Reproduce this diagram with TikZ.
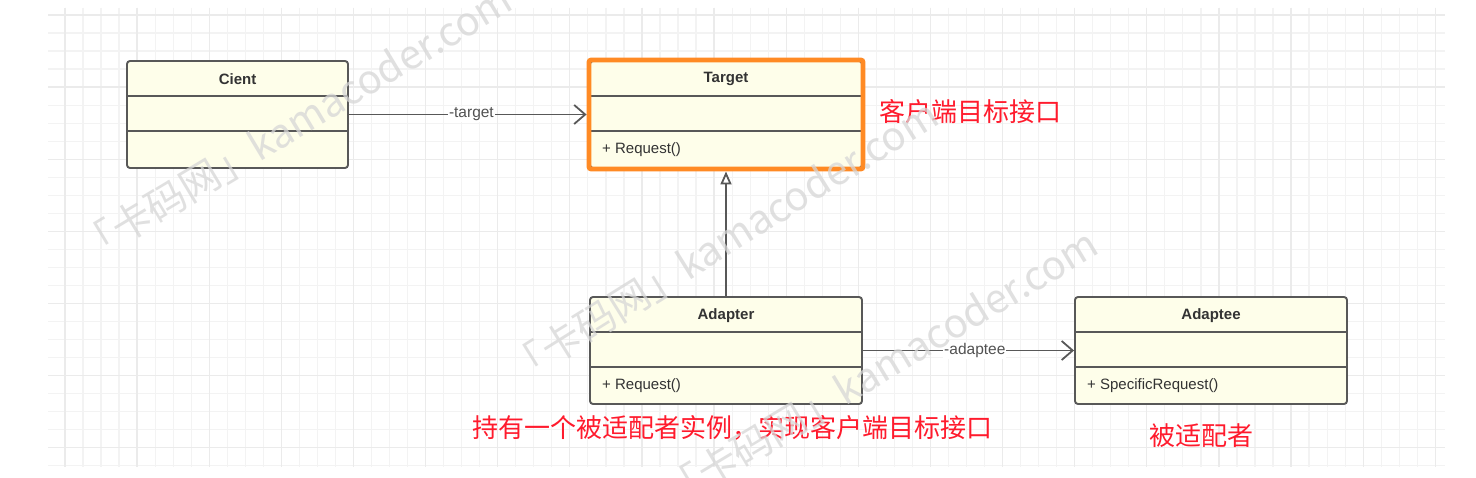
\documentclass[tikz,border=0pt]{standalone}
\usepackage{fontspec}
\setmainfont{Liberation Sans}
\newfontfamily\cjkfont{Noto Sans CJK SC}
\usetikzlibrary{arrows.meta,calc}
\definecolor{boxfill}{HTML}{FEFEEA}
\definecolor{boxline}{HTML}{585858}
\definecolor{txt}{HTML}{333333}
\definecolor{gridminor}{HTML}{F3F3F3}
\definecolor{gridmajor}{HTML}{EBEBEB}
\definecolor{orangec}{HTML}{FF8A24}
\definecolor{redc}{HTML}{FF1B2D}
\definecolor{wmc}{HTML}{D6D6D6}
\begin{document}
\begin{tikzpicture}[x=1pt,y=-1pt,
  gridl/.style={draw=gridminor, line width=1.2pt},
  gridm/.style={draw=gridmajor, line width=1.3pt},
  umlbox/.style={draw=boxline, fill=boxfill, line width=1.9pt, rounded corners=3pt, inner sep=0pt},
  sepline/.style={draw=boxline, line width=1.9pt},
  orangeframe/.style={draw=orangec, line width=4.8pt, rounded corners=2pt},
  titletext/.style={font=\fontsize{15}{18}\selectfont\bfseries, text=txt, inner sep=0pt},
  membertext/.style={font=\fontsize{15}{18}\selectfont, text=txt, anchor=west, inner sep=0pt},
  assoc/.style={draw=boxline, line width=1.8pt, -{Straight Barb[length=11pt,width=19pt]}},
  inherit/.style={draw=boxline, line width=1.8pt, -{Triangle[open,length=13pt,width=11pt,fill=white]}},
  lbl/.style={fill=white, inner sep=1pt, font=\fontsize{15.5}{18}\selectfont, text=txt!85},
  redtext/.style={font=\cjkfont\fontsize{26}{29}\selectfont, text=redc, inner sep=0pt},
  wm/.style={font=\cjkfont\fontsize{40}{44}\selectfont, text=wmc, text opacity=0.75, inner sep=0pt}
]
\fill[white] (0,0) rectangle (1476,478);
\path[use as bounding box] (0,0) rectangle (1476,478);
% grid
\foreach \i in {0,...,76} \draw[gridl] ({65+18.03*\i},8) -- ({65+18.03*\i},467);
\foreach \j in {0,...,25} \draw[gridl] (48,{15+18.03*\j}) -- (1445,{15+18.03*\j});
\foreach \i in {0,...,19} \draw[gridm] ({65+72.12*\i},8) -- ({65+72.12*\i},467);
\foreach \j in {0,...,6} \draw[gridm] (48,{15+72.12*\j}) -- (1445,{15+72.12*\j});

% Client
\node[umlbox, minimum width=221pt, minimum height=107pt] (client) at (237.5,114.5) {};
\draw[sepline] ([yshift=-36pt]client.north west) -- ([yshift=-36pt]client.north east);
\draw[sepline] ([yshift=-71pt]client.north west) -- ([yshift=-71pt]client.north east);
\node[titletext] (clientname) at (237.5,79) {Cient};

% Target
\node[umlbox, minimum width=272pt, minimum height=107pt] (target) at (726,114.5) {};
\draw[sepline] ([yshift=-36pt]target.north west) -- ([yshift=-36pt]target.north east);
\draw[sepline] ([yshift=-71pt]target.north west) -- ([yshift=-71pt]target.north east);
\node[titletext] (targetname) at (726,79) {Target};
\node[membertext] (targetop) at (602,150) {+ Request()};
\draw[orangeframe] (target.north west) rectangle (target.south east);

% Adapter
\node[umlbox, minimum width=272pt, minimum height=107pt] (adapter) at (726,350.5) {};
\draw[sepline] ([yshift=-36pt]adapter.north west) -- ([yshift=-36pt]adapter.north east);
\draw[sepline] ([yshift=-71pt]adapter.north west) -- ([yshift=-71pt]adapter.north east);
\node[titletext] (adaptername) at (726,315.5) {Adapter};
\node[membertext] (adapterop) at (602,386) {+ Request()};

% Adaptee
\node[umlbox, minimum width=272pt, minimum height=107pt] (adaptee) at (1211,350.5) {};
\draw[sepline] ([yshift=-36pt]adaptee.north west) -- ([yshift=-36pt]adaptee.north east);
\draw[sepline] ([yshift=-71pt]adaptee.north west) -- ([yshift=-71pt]adaptee.north east);
\node[titletext] (adapteename) at (1211,315.5) {Adaptee};
\node[membertext] (adapteeop) at (1087,386) {+ SpecificRequest()};

% connectors
\draw[assoc, shorten >=2.5pt] (client) -- (target) node[lbl, pos=0.51] {-target};
\draw[inherit, shorten >=2.5pt] (adapter) -- (target);
\draw[assoc] (adapter) -- (adaptee) node[lbl, pos=0.53] {-adaptee};

% red notes
\node[redtext, anchor=west] (note1) at (879,112) {客户端目标接口};
\node[redtext] (note2) at (732,428) {持有一个被适配者实例，实现客户端目标接口};
\node[redtext] (note3) at (1201,436) {被适配者};

% watermarks
\node[wm, rotate=31] (wm1) at (294,124) {「卡码网」kamacoder.com};
\node[wm, rotate=32] (wm2) at (722,242) {「卡码网」kamacoder.com};
\node[wm, rotate=31] (wm3) at (880,368) {「卡码网」kamacoder.com};
\end{tikzpicture}
\end{document}
